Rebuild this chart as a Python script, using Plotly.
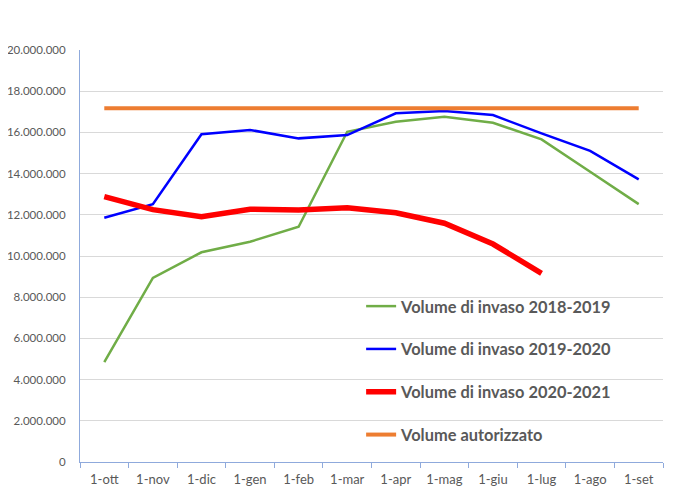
import plotly.graph_objects as go

months = ["1-ott", "1-nov", "1-dic", "1-gen", "1-feb", "1-mar", "1-apr", "1-mag", "1-giu", "1-lug", "1-ago", "1-set"]

vol_2018_2019 = [4850000, 8940000, 10180000, 10690000, 11420000, 16030000, 16520000, 16760000, 16470000, 15660000, 14090000, 12520000]
vol_2019_2020 = [11860000, 12510000, 15910000, 16120000, 15710000, 15870000, 16930000, 17040000, 16840000, 15950000, 15100000, 13720000]
vol_2020_2021 = [12880000, 12250000, 11910000, 12270000, 12230000, 12340000, 12100000, 11590000, 10580000, 9160000]
vol_autorizzato = [17170000] * 12

names = ["Volume di invaso 2018-2019", "Volume di invaso 2019-2020", "Volume di invaso 2020-2021", "Volume autorizzato"]
colors = ["#70ad47", "#0000ff", "#ff0000", "#ed7d31"]
widths = [2.5, 2.5, 5.5, 4]

fig = go.Figure()
series = [vol_2018_2019, vol_2019_2020, vol_2020_2021, vol_autorizzato]
for i, (s, n, c, w) in enumerate(zip(series, names, colors, widths)):
    fig.add_trace(go.Scatter(
        x=months[:len(s)], y=s, name=n, mode="lines",
        line=dict(color=c, width=w, shape="linear"),
        legendgroup=f"g{i}",
    ))

axis_color = "#8faadc"
fig.update_layout(
    width=697, height=493,
    margin=dict(l=72, r=42, t=42, b=39, autoexpand=False),
    plot_bgcolor="white", paper_bgcolor="white",
    separators=",.",
    font=dict(family="Lato", size=13, color="#595959"),
    showlegend=True,
    legend=dict(
        x=0.4822, y=0.42, xanchor="left", yanchor="top",
        bgcolor="rgba(0,0,0,0)",
        font=dict(family="Lato", size=16.4, color="#595959", weight="bold"),
        traceorder="grouped", tracegroupgap=18.5,
    ),
    xaxis=dict(
        type="category", categoryorder="array", categoryarray=months,
        range=[-0.5, 11.5], automargin=False,
        showline=True, linecolor=axis_color, linewidth=1,
        ticks="outside", tickson="boundaries", ticklen=5, tickcolor=axis_color,
        ticklabelstandoff=5,
        showgrid=False,
        tickfont=dict(family="Lato", size=13, color="#595959"),
    ),
    yaxis=dict(
        range=[0, 20000000], dtick=2000000, tick0=0, automargin=False,
        tickformat=",.0f",
        showline=True, linecolor=axis_color, linewidth=1,
        gridcolor="#d9d9d9", gridwidth=1,
        zeroline=False, ticks="",
        ticklabelstandoff=11,
        tickfont=dict(family="Lato", size=11.5, color="#595959"),
    ),
)

fig.write_html("out.html")
